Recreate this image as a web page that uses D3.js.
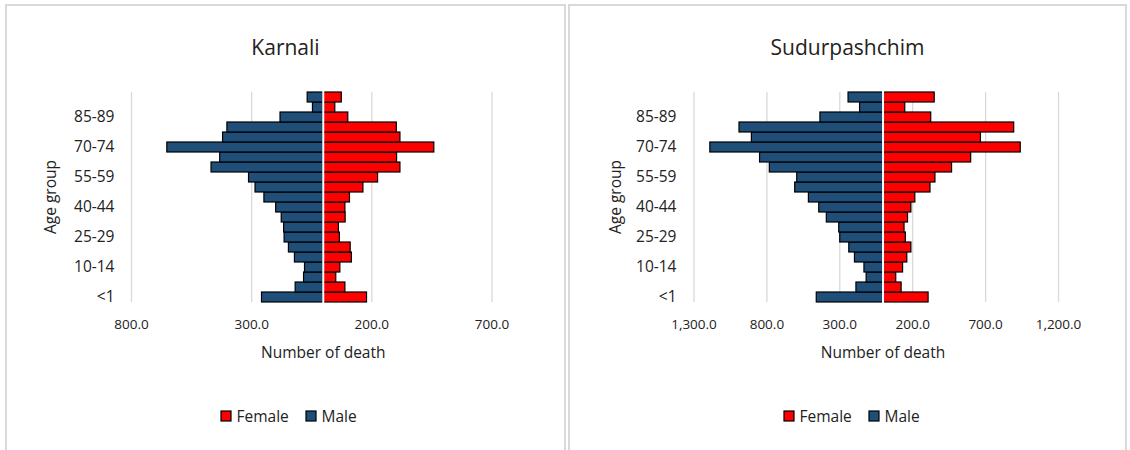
<!DOCTYPE html>
<html>
<head>
<meta charset="utf-8">
<script src="https://cdn.jsdelivr.net/npm/d3@7"></script>
<style>
  body { margin: 0; background: #fff; }
  svg text { font-family: "Open Sans", "Noto Sans", sans-serif; fill: #222; }
</style>
</head>
<body>
<svg id="chart" width="1130" height="450"></svg>
<script>
// age groups, youngest first (bottom of the pyramid)
let ageGroups = ['<1', '1-4', '5-9', '10-14', '15-19', '20-24', '25-29', '30-34', '35-39',
  '40-44', '45-49', '50-54', '55-59', '60-64', '65-69', '70-74', '75-79', '80-84',
  '85-89', '90-94', '95+'];

// Karnali deaths
let karnaliMale = [257, 117, 82, 78, 120, 145, 163, 165, 175, 198, 247, 284, 311,
  467, 431, 651, 419, 401, 180, 45, 67];
let karnaliFemale = [180, 90, 52, 69, 117, 112, 67, 63, 91, 90, 109, 165, 226,
  319, 305, 460, 319, 304, 102, 48, 75];

// Sudurpashchim deaths
let sudurMale = [458, 186, 116, 131, 196, 235, 297, 304, 389, 441, 512, 606, 592,
  780, 847, 1188, 903, 988, 433, 161, 240];
let sudurFemale = [309, 124, 87, 134, 163, 191, 153, 144, 168, 191, 218, 322, 356,
  470, 601, 941, 668, 896, 327, 149, 351];

let karnaliTicks = [-800, -300, 200, 700];
let sudurTicks = [-1300, -800, -300, 200, 700, 1200];

let seriesNames = ['Female', 'Male'];
let maleColor = '#1f4e79';
let femaleColor = '#ff0000';

let svg = d3.select('#chart');
svg.append('rect').attr('width', 1130).attr('height', 450).attr('fill', '#fff');

let panels = [
  {
    title: 'Karnali', male: karnaliMale, female: karnaliFemale, ticks: karnaliTicks,
    left: 6, right: 565,
    plot: [131, 491.5],
    catX: 114.5, ageX: 56
  },
  {
    title: 'Sudurpashchim', male: sudurMale, female: sudurFemale, ticks: sudurTicks,
    left: 569, right: 1126,
    plot: [693.5, 1058],
    catX: 676.5, ageX: 620.5
  }
];

let plotTop = 92;
let plotBottom = 302;

//y scale shared by both panels
let y = d3.scaleBand()
  .domain(ageGroups)
  .range([plotBottom, plotTop])
  .padding(0);

panels.forEach(function(p) {
  let g = svg.append('g');

  //panel border
  g.append('path')
    .attr('d', `M${p.left},460 V5 H${p.right} V460`)
    .attr('fill', 'none')
    .attr('stroke', '#d9d9d9')
    .attr('stroke-width', 2);

  //title
  g.append('text')
    .attr('x', (p.left + p.right) / 2)
    .attr('y', 55)
    .attr('text-anchor', 'middle')
    .style('font-size', '21px')
    .text(p.title);

  let x = d3.scaleLinear()
    .domain([p.ticks[0], p.ticks[p.ticks.length - 1]])
    .range(p.plot);

  //gridlines
  let grid = g.append('g')
    .attr('transform', `translate(0,${plotBottom})`)
    .call(d3.axisBottom(x).tickValues(p.ticks).tickSize(-(plotBottom - plotTop)).tickFormat(''));
  grid.select('.domain').remove();
  grid.selectAll('line').attr('stroke', '#d9d9d9').attr('stroke-width', 1.3);

  //tick labels
  let xAxis = g.append('g')
    .attr('transform', `translate(0,${plotBottom})`)
    .call(d3.axisBottom(x).tickValues(p.ticks).tickSize(0).tickPadding(17.5)
      .tickFormat(d => d3.format(',.1f')(Math.abs(d))));
  xAxis.select('.domain').remove();
  xAxis.selectAll('text')
    .attr('fill', '#222')
    .style('font-size', '13.5px')
    .style('font-family', '"Open Sans", sans-serif');

  //male bars
  g.append('g').selectAll('rect')
    .data(p.male)
    .join('rect')
    .attr('x', d => x(-d))
    .attr('y', (d, i) => y(ageGroups[i]))
    .attr('width', d => x(0) - x(-d))
    .attr('height', y.bandwidth())
    .attr('fill', maleColor)
    .attr('stroke', '#000')
    .attr('stroke-width', 1.2);

  //female bars
  g.append('g').selectAll('rect')
    .data(p.female)
    .join('rect')
    .attr('x', x(0))
    .attr('y', (d, i) => y(ageGroups[i]))
    .attr('width', d => x(d) - x(0))
    .attr('height', y.bandwidth())
    .attr('fill', femaleColor)
    .attr('stroke', '#000')
    .attr('stroke-width', 1.2);

  //vertical axis line at zero
  g.append('line')
    .attr('x1', x(0)).attr('x2', x(0))
    .attr('y1', plotTop - 1).attr('y2', plotBottom + 1)
    .attr('stroke', '#fff')
    .attr('stroke-width', 2);

  //category labels, every third group
  let yAxis = g.append('g')
    .attr('transform', `translate(${p.catX},0)`)
    .call(d3.axisLeft(y).tickValues(ageGroups.filter((d, i) => i % 3 === 0)).tickSize(0).tickPadding(0));
  yAxis.select('.domain').remove();
  yAxis.selectAll('text')
    .attr('fill', '#222')
    .style('font-size', '15.5px')
    .style('font-family', '"Open Sans", sans-serif');

  //axis titles
  g.append('text')
    .attr('transform', `translate(${p.ageX},197) rotate(-90)`)
    .attr('text-anchor', 'middle')
    .style('font-size', '15.5px')
    .text('Age group');

  g.append('text')
    .attr('x', x(0))
    .attr('y', 358)
    .attr('text-anchor', 'middle')
    .style('font-size', '15.5px')
    .text('Number of death');

  //legend
  let legend = g.append('g')
    .attr('transform', `translate(${p.left + 215},411)`);
  let items = legend.selectAll('g')
    .data(seriesNames)
    .join('g')
    .attr('transform', (d, i) => `translate(${i * 85},0)`);
  items.append('rect')
    .attr('width', 10).attr('height', 10)
    .attr('fill', d => d === 'Female' ? femaleColor : maleColor)
    .attr('stroke', '#000')
    .attr('stroke-width', 1.2);
  items.append('text')
    .attr('x', 15.5)
    .attr('y', 10.5)
    .style('font-size', '15.5px')
    .text(d => d);
});
</script>
</body>
</html>
